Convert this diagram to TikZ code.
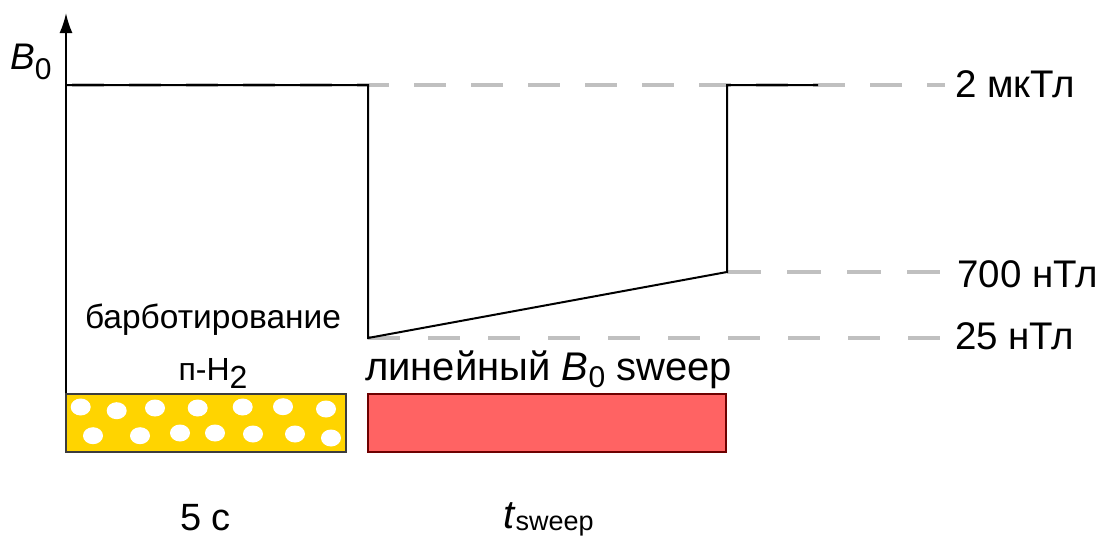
\documentclass[tikz,border=0pt]{standalone}
\usepackage{fontspec}
\setmainfont{Liberation Sans}
\usetikzlibrary{arrows.meta}

\definecolor{guidegray}{RGB}{192,192,192}
\definecolor{spargefill}{RGB}{255,212,0}
\definecolor{spargeedge}{RGB}{60,60,60}
\definecolor{sweepfill}{RGB}{255,99,99}
\definecolor{sweepedge}{RGB}{110,0,0}

\newcommand{\fs}[1]{\fontsize{#1}{#1}\selectfont}

\begin{document}
\begin{tikzpicture}[x=1pt,y=-1pt,
  trace/.style={line width=2pt,black,line join=miter},
  guide/.style={line width=4pt,guidegray},
  lbl/.style={inner sep=0pt,anchor=base west},
  lvl/.style={lbl,font=\fs{38.5}},
  phase/.style={draw,line width=2pt,minimum height=58pt,inner sep=0pt},
  bubble/.style={fill=white,draw=none}
]
\useasboundingbox (0,0) rectangle (1103,536);

% field levels (dashed guides)
\draw[guide,dash pattern=on 32pt off 25pt] (72,85) -- (945,85);
\draw[guide,dash pattern=on 34pt off 26pt] (727,272) -- (940,272);
\draw[guide,dash pattern=on 32pt off 28pt] (368,338) -- (940,338);

% axis
\coordinate (axbot) at (66,393);
\coordinate (axtop) at (66,13);
\draw[line width=2pt,-{Latex[length=20pt,width=13pt]}] (axbot) -- (axtop);
\node[lbl] (blab) at (10,69) {\fs{37}\textit{B}\raisebox{-10pt}{\fs{30}0}};

% field profile
\coordinate (p0) at (66,85);
\coordinate (p1) at (368,85);
\coordinate (p2) at (368,338);
\coordinate (p3) at (727,272);
\coordinate (p4) at (727,85);
\coordinate (p5) at (818,85);
\draw[trace] (p0) -- (p1) -- (p2) -- (p3) -- (p4) -- (p5);

% level labels
\node[lvl] (l2u) at (955,97) {2 мкТл};
\node[lvl] (l700) at (957,287) {700 нТл};
\node[lvl] (l25) at (955,349) {25 нТл};

% sparging phase
\node[phase,fill=spargefill,draw=spargeedge,minimum width=280pt] (sparge) at (206,422.5) {};
\foreach \bx/\by in {80.7/407,116.7/410.7,155/408,197.7/408,242.7/407,283/406.7,326/409,
                     93/435.7,140/435.7,180/433,215/433,253/434,295/434,331/438}
  \fill[bubble] (\bx,\by) ellipse [x radius=10pt,y radius=8.5pt];

% sweep phase
\node[phase,fill=sweepfill,draw=sweepedge,minimum width=358pt] (sweep) at (547,422.5) {};

% phase captions
\node[inner sep=0pt,anchor=base] (cap1) at (213,328) {\fs{33.5}барботирование};
\node[inner sep=0pt,anchor=base] (cap2) at (213,380) {\fs{32}п-H\raisebox{-8pt}{2}};
\node[lbl] (cap3) at (365,380) {\fs{40}линейный \textit{B}\raisebox{-7pt}{\fs{30}0} sweep};

% durations
\node[lbl] (d1) at (180,530) {\fs{38}5 с};
\node[lbl] (d2) at (503,528) {\fs{40}\textit{t}\raisebox{-2pt}{\fs{27}sweep}};
\end{tikzpicture}
\end{document}
